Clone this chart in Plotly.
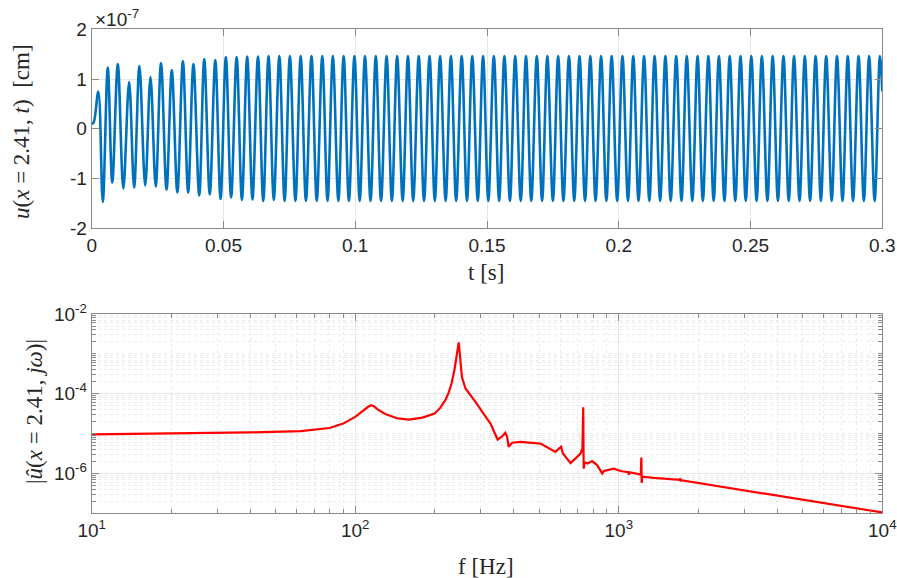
import plotly.graph_objects as go

# ---------------- top panel: time signal (local extrema), units of 1e-7 cm
t_ext = [0.0, 0.0007, 0.0025, 0.0042, 0.0061, 0.0078, 0.0099, 0.0120, 0.0142, 0.0161,
         0.0181, 0.0203, 0.0223, 0.0243, 0.0263, 0.0284, 0.0304, 0.0325, 0.0346, 0.0366,
         0.0386, 0.0408, 0.0427, 0.0448, 0.0469, 0.0489, 0.0509, 0.0529, 0.0550, 0.0570,
         0.0590, 0.0610, 0.0631, 0.0651,
         0.0671, 0.0691, 0.0712, 0.0732, 0.0752, 0.0773, 0.0793, 0.0813, 0.0834, 0.0854,
         0.0875, 0.0895, 0.0915, 0.0936, 0.0956, 0.0976, 0.0997, 0.1017, 0.1037, 0.1058,
         0.1078, 0.1098, 0.1119, 0.1139, 0.1159, 0.1180, 0.1200, 0.1220, 0.1241, 0.1261,
         0.1282, 0.1302, 0.1322, 0.1343, 0.1363, 0.1383, 0.1404, 0.1424, 0.1444, 0.1465,
         0.1485, 0.1505, 0.1526, 0.1546, 0.1566, 0.1587, 0.1607, 0.1628, 0.1648, 0.1668,
         0.1689, 0.1709, 0.1729, 0.1750, 0.1770, 0.1790, 0.1811, 0.1831, 0.1851, 0.1872,
         0.1892, 0.1912, 0.1933, 0.1953, 0.1973, 0.1994, 0.2014, 0.2035, 0.2055, 0.2075,
         0.2096, 0.2116, 0.2136, 0.2157, 0.2177, 0.2197, 0.2218, 0.2238, 0.2258, 0.2279,
         0.2299, 0.2319, 0.2340, 0.2360, 0.2380, 0.2401, 0.2421, 0.2442, 0.2462, 0.2482,
         0.2503, 0.2523, 0.2543, 0.2564, 0.2584, 0.2604, 0.2625, 0.2645, 0.2665, 0.2686,
         0.2706, 0.2726, 0.2747, 0.2767, 0.2787, 0.2808, 0.2828, 0.2849, 0.2869, 0.2889,
         0.2910, 0.2930, 0.2950, 0.2971, 0.2991, 0.3000]

u_ext = [0.10, 0.12, 0.75, -1.47, 1.23, -1.08, 1.30, -1.20, 0.94, -1.18,
         1.26, -1.14, 1.04, -1.16, 1.32, -1.22, 1.18, -1.28, 1.36, -1.28,
         1.30, -1.34, 1.40, -1.32, 1.38, -1.41, 1.44, -1.38, 1.44, -1.43,
         1.45, -1.42, 1.45, -1.45,
         1.46, -1.43, 1.46, -1.45, 1.46, -1.45, 1.46, -1.45, 1.46, -1.45,
         1.46, -1.45, 1.46, -1.45, 1.46, -1.45, 1.46, -1.45, 1.46, -1.45,
         1.46, -1.45, 1.46, -1.45, 1.46, -1.45, 1.46, -1.45, 1.46, -1.45,
         1.46, -1.45, 1.46, -1.45, 1.46, -1.45, 1.46, -1.45, 1.46, -1.45,
         1.46, -1.45, 1.46, -1.45, 1.46, -1.45, 1.46, -1.45, 1.46, -1.45,
         1.46, -1.45, 1.46, -1.45, 1.46, -1.45, 1.46, -1.45, 1.46, -1.45,
         1.46, -1.45, 1.46, -1.45, 1.46, -1.45, 1.46, -1.45, 1.46, -1.45,
         1.46, -1.45, 1.46, -1.45, 1.46, -1.45, 1.46, -1.45, 1.46, -1.45,
         1.46, -1.45, 1.46, -1.45, 1.46, -1.45, 1.46, -1.45, 1.46, -1.45,
         1.46, -1.45, 1.46, -1.45, 1.46, -1.45, 1.46, -1.45, 1.46, -1.45,
         1.46, -1.45, 1.46, -1.45, 1.46, -1.45, 1.46, -1.45, 1.46, -1.45,
         1.46, -1.45, 1.46, -1.45, 1.46, 0.75]

t_ticks = [0, 0.05, 0.1, 0.15, 0.2, 0.25, 0.3]
t_tick_text = ["0", "0.05", "0.1", "0.15", "0.2", "0.25", "0.3"]
u_ticks = [-2, -1, 0, 1, 2]

# ---------------- bottom panel: spectrum magnitude
freq = [10, 20, 40, 62, 70, 80, 90, 100, 104, 108, 112, 115, 118, 122, 130, 145, 160,
        180, 200, 210, 220, 226, 232, 238, 242, 245, 247, 249, 251, 254, 262, 277, 290,
        303, 326, 347, 360, 371, 377, 382, 394,
        423, 505, 575, 604, 614, 656, 716, 728, 733, 736, 742, 762, 792, 828, 865, 878,
        957, 1016, 1085, 1092, 1100, 1192, 1212, 1218, 1222, 1228, 1355, 1705, 1712,
        1716, 1722, 10000]
mag = [9.55e-6, 1.0e-5, 1.07e-5, 1.15e-5, 1.23e-5, 1.38e-5, 1.78e-5, 2.63e-5, 3.2e-5,
       3.95e-5, 4.7e-5, 5.13e-5, 4.8e-5, 4.0e-5, 3.09e-5, 2.40e-5, 2.24e-5,
       2.51e-5, 3.16e-5, 4.4e-5, 7.0e-5, 1.05e-4, 1.8e-4, 4.0e-4, 7.6e-4, 1.26e-3,
       1.95e-3, 1.12e-3, 5.0e-4, 2.63e-4, 1.35e-4, 8.32e-5, 5.5e-5,
       3.55e-5, 1.78e-5, 7.08e-6, 8.32e-6, 1.05e-5, 8.32e-6, 4.68e-6, 5.89e-6,
       6.17e-6, 5.62e-6, 3.47e-6, 4.68e-6, 3.16e-6, 1.82e-6, 3.16e-6, 4.27e-6, 4.57e-5,
       1.32e-6, 1.91e-6, 1.78e-6, 2.04e-6, 1.62e-6, 1.00e-6, 1.15e-6,
       1.32e-6, 1.15e-6, 1.07e-6, 9.33e-7, 1.07e-6, 9.55e-7, 9.33e-7, 2.51e-6, 5.75e-7,
       8.32e-7, 7.76e-7, 6.92e-7, 7.59e-7, 6.31e-7, 6.76e-7, 1.05e-7]

f_ticks = [10, 100, 1000, 10000]
f_tick_text = ["10<sup>1</sup>", "10<sup>2</sup>", "10<sup>3</sup>", "10<sup>4</sup>"]
m_ticks = [1e-6, 1e-4, 1e-2]
m_tick_text = ["10<sup>-6</sup>", "10<sup>-4</sup>", "10<sup>-2</sup>"]

W, H = 897, 578
TICKFONT = dict(family="Liberation Sans, Arial, sans-serif", size=19, color="#262626")
SERIF = dict(family="Liberation Serif, DejaVu Serif, serif", size=23, color="#262626")
AXC = "#8a8a8a"
GRID = "#e6e6e6"

fig = go.Figure()
fig.add_trace(go.Scatter(x=t_ext, y=u_ext, mode="lines", xaxis="x", yaxis="y",
                         line=dict(color="#0072BD", width=2.6, shape="spline", smoothing=1),
                         showlegend=False, hoverinfo="skip"))
fig.add_trace(go.Scatter(x=freq, y=mag, mode="lines", xaxis="x2", yaxis="y2",
                         line=dict(color="#FF0000", width=2.2),
                         showlegend=False, hoverinfo="skip"))

xd = [91.7 / W, 882.3 / W]
common = dict(showline=True, linecolor=AXC, linewidth=1, mirror="ticks", ticks="inside",
              ticklen=7, tickcolor=AXC, tickfont=TICKFONT, zeroline=False,
              showgrid=True, gridcolor=GRID, gridwidth=1, automargin=False)

fig.update_layout(
    width=W, height=H, margin=dict(l=0, r=0, t=0, b=0, autoexpand=False),
    paper_bgcolor="white", plot_bgcolor="white",
    xaxis=dict(domain=xd, anchor="y", range=[0, 0.3], tickvals=t_ticks,
               ticktext=t_tick_text, **common),
    yaxis=dict(domain=[1 - 228.3 / H, 1 - 29.3 / H], anchor="x", range=[-2, 2],
               tickvals=u_ticks, ticktext=[str(v) for v in u_ticks], **common),
    xaxis2=dict(domain=xd, anchor="y2", type="log", range=[1, 4], tickvals=f_ticks,
                ticktext=f_tick_text,
                minor=dict(dtick="D1", ticks="inside", ticklen=4, tickcolor=AXC,
                           showgrid=True, gridcolor="#ececec", griddash="dot"),
                **common),
    yaxis2=dict(domain=[1 - 513.3 / H, 1 - 314 / H], anchor="x2", type="log",
                range=[-7, -2], tickvals=m_ticks, ticktext=m_tick_text,
                minor=dict(dtick="D1", ticks="inside", ticklen=4, tickcolor=AXC,
                           showgrid=True, gridcolor="#ececec", griddash="dot"),
                **common),
)

ann = [
    dict(text="×10<sup>-7</sup>", x=93 / W, y=1 - 18 / H, xanchor="left", yanchor="middle",
         font=TICKFONT),
    dict(text="<i>u</i>(<i>x</i> = 2.41, <i>t</i>)  [cm]", x=22 / W, y=1 - 132 / H,
         textangle=-90, xanchor="center", yanchor="middle", font=SERIF),
    dict(text="t [s]", x=486 / W, y=1 - 272 / H, xanchor="center", yanchor="middle",
         font=SERIF),
    dict(text="|<i>û</i>(<i>x</i> = 2.41, <i>jω</i>)|", x=34 / W, y=1 - 412 / H,
         textangle=-90, xanchor="center", yanchor="middle", font=SERIF),
    dict(text="f [Hz]", x=486 / W, y=1 - 566 / H, xanchor="center", yanchor="middle",
         font=SERIF),
]
for a in ann:
    fig.add_annotation(xref="paper", yref="paper", showarrow=False, **a)

fig.write_html("out.html", config={"displayModeBar": False},
               post_script="document.body.style.margin='0';document.body.style.overflow='hidden';")
